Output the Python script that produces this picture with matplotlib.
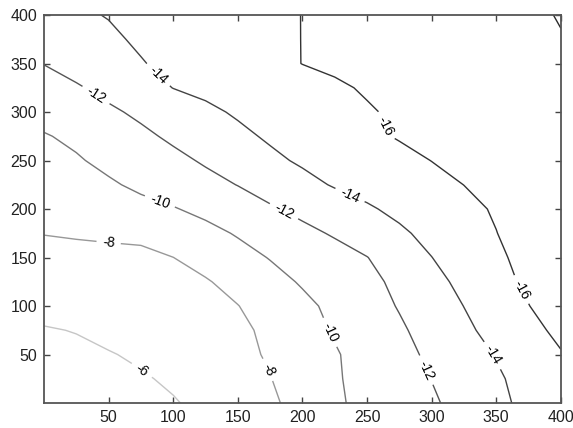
import numpy as np
import matplotlib
matplotlib.use("Agg")
import matplotlib.pyplot as plt

# grid coordinates
x_grid = [0, 25, 50, 75, 100, 125, 150, 175, 200, 225, 250, 275, 300, 325, 350, 375, 400]
y_grid = [0, 25, 50, 75, 100, 125, 150, 175, 200, 225, 250, 275, 300, 325, 350, 375, 400]

# field values (rows = y_grid, cols = x_grid)
z_rows = [
    [-4.50, -4.84, -5.19, -5.53, -5.88, -6.42, -7.06, -7.71, -8.62, -9.73, -10.49, -11.13, -11.77, -12.60, -13.55, -14.49, -15.43],
    [-4.95, -5.24, -5.54, -5.83, -6.25, -6.82, -7.39, -7.95, -8.87, -9.81, -10.58, -11.30, -12.03, -12.90, -13.76, -14.62, -15.48],
    [-5.45, -5.72, -5.90, -6.26, -6.71, -7.17, -7.63, -8.15, -9.00, -9.85, -10.67, -11.48, -12.32, -13.20, -14.09, -14.99, -15.89],
    [-5.90, -6.05, -6.47, -6.81, -7.15, -7.49, -7.88, -8.12, -9.30, -10.16, -10.95, -11.75, -12.67, -13.65, -14.58, -15.49, -16.40],
    [-6.46, -6.72, -6.98, -7.23, -7.49, -7.74, -7.96, -8.81, -9.59, -10.41, -11.25, -12.11, -13.06, -14.02, -14.98, -15.96, -16.94],
    [-6.99, -7.18, -7.38, -7.57, -7.76, -7.85, -8.60, -9.40, -10.17, -10.86, -11.56, -12.38, -13.45, -14.45, -15.40, -16.34, -17.28],
    [-7.52, -7.64, -7.76, -7.88, -7.99, -8.66, -9.37, -10.08, -10.70, -11.33, -11.96, -12.96, -13.98, -14.84, -15.69, -16.55, -17.41],
    [-8.04, -8.12, -8.15, -8.12, -8.93, -9.48, -10.15, -10.98, -11.55, -12.18, -12.95, -13.72, -14.48, -15.22, -15.97, -16.72, -17.40],
    [-8.50, -8.85, -9.19, -9.54, -9.89, -10.45, -11.12, -11.79, -12.45, -13.12, -13.79, -14.40, -14.99, -15.58, -16.16, -16.75, -17.34],
    [-8.96, -9.38, -9.80, -10.30, -10.88, -11.46, -12.04, -12.77, -13.49, -14.14, -14.60, -15.07, -15.53, -16.01, -16.48, -16.97, -17.45],
    [-9.43, -9.85, -10.38, -10.98, -11.57, -12.20, -12.93, -13.65, -14.23, -14.68, -15.13, -15.57, -16.02, -16.39, -16.76, -17.13, -17.50],
    [-9.89, -10.31, -10.97, -11.64, -12.30, -12.97, -13.63, -14.22, -14.71, -15.20, -15.69, -16.11, -16.40, -16.69, -16.98, -17.26, -17.55],
    [-10.57, -11.14, -11.71, -12.33, -12.99, -13.66, -14.20, -14.62, -15.04, -15.46, -15.88, -16.21, -16.50, -16.78, -17.07, -17.36, -17.65],
    [-11.31, -11.82, -12.50, -13.28, -14.03, -14.39, -14.74, -15.10, -15.46, -15.81, -16.13, -16.40, -16.67, -16.94, -17.21, -17.48, -17.75],
    [-12.04, -12.67, -13.30, -13.92, -14.36, -14.78, -15.19, -15.60, -16.02, -16.24, -16.47, -16.70, -16.94, -17.17, -17.40, -17.62, -17.85],
    [-12.80, -13.29, -13.77, -14.20, -14.56, -14.93, -15.30, -15.66, -16.02, -16.26, -16.50, -16.74, -16.99, -17.23, -17.47, -17.71, -17.95],
    [-13.55, -13.80, -14.06, -14.39, -14.71, -15.03, -15.35, -15.68, -16.02, -16.26, -16.52, -16.77, -17.03, -17.29, -17.55, -17.80, -18.06],
]

levels = [-18, -16, -14, -12, -10, -8, -6]
x_ticks = [50, 100, 150, 200, 250, 300, 350, 400]
y_ticks = [50, 100, 150, 200, 250, 300, 350, 400]

# style
line_colors = ['#2a2a2a', '#333333', '#434343', '#555555', '#777777', '#989898', '#c6c6c6']
label_spots = [(77, 36), (50, 165), (173, 34), (90, 209), (220, 72),
               (40, 317), (185, 196), (296, 34), (86, 335), (235, 209),
               (347, 49), (262, 284), (368, 116)]

plt.rcParams['font.family'] = ['Liberation Sans', 'DejaVu Sans']

fig = plt.figure(figsize=(5.73, 4.28), dpi=100)
ax = fig.add_axes([0.0768, 0.0584, 0.902, 0.9065])

X, Y = np.meshgrid(np.array(x_grid, float), np.array(y_grid, float))
Z = np.array(z_rows, float)

cs = ax.contour(X, Y, Z, levels=levels, colors=line_colors, linewidths=1.0)
ax.clabel(cs, fmt='%d', fontsize=10, colors='k',
          inline=True, inline_spacing=6, manual=label_spots)

ax.set_xlim(0, 400)
ax.set_ylim(0, 400)
ax.set_xticks(x_ticks)
ax.set_yticks(y_ticks)
ax.tick_params(direction='in', top=True, right=True, length=4, width=1.0,
               color='#444444', labelsize=11.5, labelcolor='#222222', pad=5)
for s in ax.spines.values():
    s.set_color('#555555')
    s.set_linewidth(1.3)

fig.savefig('out.png', dpi=100)
